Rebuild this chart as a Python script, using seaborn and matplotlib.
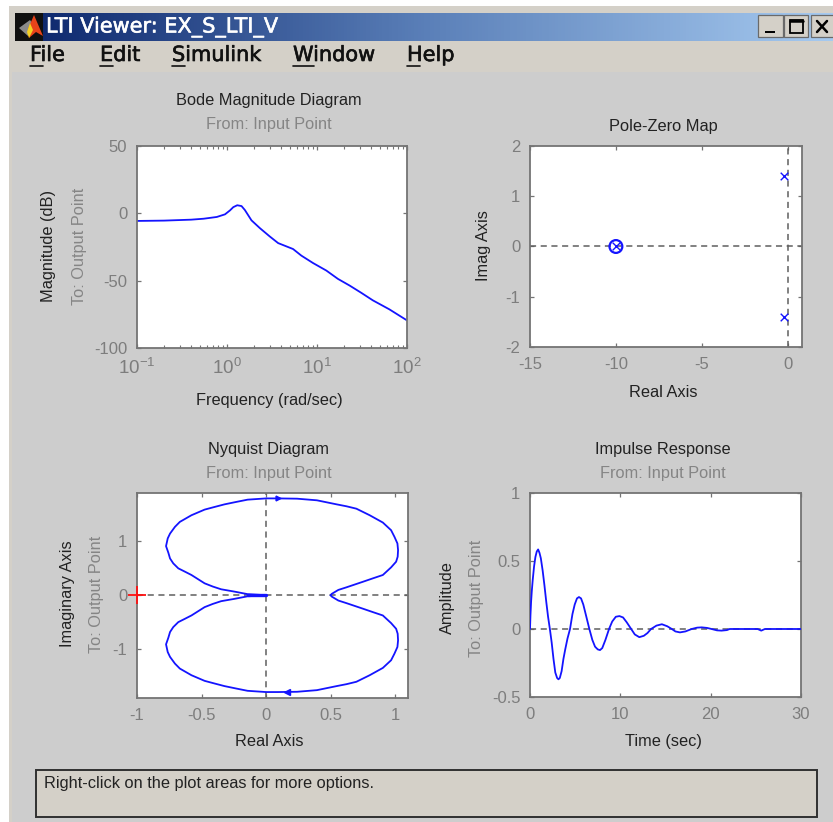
import numpy as np
import matplotlib
matplotlib.use("Agg")
import matplotlib.pyplot as plt
import matplotlib.patheffects as pe
from matplotlib.patches import Rectangle, Polygon
from matplotlib.ticker import FixedLocator, NullFormatter
import seaborn as sns

# ===============================
# Values
# ===============================
bode_freq = [0.1, 0.2, 0.4, 0.55, 0.77, 0.95, 1.08, 1.175, 1.30, 1.45, 1.58, 1.87, 2.32,
             2.99, 3.7, 5.42, 6.7, 9.03, 12.7, 17.1, 23, 31, 41.7, 63.7, 100]
bode_mag = [-5.65, -5.4, -4.7, -4.0, -2.7, -0.75, 2.2, 4.6, 6.0, 5.4, 2.45, -5.2, -11,
            -17.2, -22.1, -26.5, -31.4, -36.9, -42.5, -48.7, -53.6, -59, -64.6, -71.3, -79.5]

pole_re = [-0.21, -0.21, -10]
pole_im = [1.4, -1.4, 0]
zero_re = [-10]
zero_im = [0]

nyq_re = [0, -0.143, -0.245, -0.348, -0.412, -0.476, -0.578, -0.629, -0.68, -0.719, -0.744,
          -0.757, -0.775, -0.762, -0.744, -0.706, -0.668, -0.578, -0.476, -0.399, -0.322,
          -0.233, -0.143, 0, 0.092, 0.24, 0.394, 0.547, 0.624, 0.70, 0.803, 0.905, 0.969,
          0.995, 1.018, 1.023, 1.02, 1.008, 0.969, 0.905, 0.829, 0.752, 0.624, 0.56, 0.509, 0.5]
nyq_im = [0, 0.02, 0.067, 0.11, 0.16, 0.22, 0.374, 0.436, 0.497, 0.589, 0.68,
          0.785, 0.908, 1.05, 1.14, 1.264, 1.356, 1.479, 1.583, 1.632, 1.68,
          1.724, 1.767, 1.79, 1.79, 1.785, 1.755, 1.68, 1.644, 1.60, 1.479, 1.344, 1.202,
          1.08, 0.957, 0.834, 0.712, 0.62, 0.515, 0.374, 0.313, 0.25, 0.147, 0.098, 0.025, 0]

imp_t = [0, 0.05, 0.12, 0.2, 0.3, 0.45, 0.6, 0.75, 0.9, 1.05, 1.2, 1.4, 1.6, 1.8, 2.0, 2.2,
         2.4, 2.6, 2.8, 3.0, 3.15, 3.3, 3.5, 3.7, 3.9, 4.15, 4.43, 4.7, 4.95, 5.2, 5.42,
         5.65, 5.9, 6.2, 6.57, 6.9, 7.2, 7.5, 7.75, 8.0, 8.35, 8.75, 9.1, 9.5, 9.9, 10.3,
         10.7, 11.2, 11.6, 12.1, 12.6, 13.0, 13.4, 14, 14.6, 15.2, 15.7, 16.1, 16.6, 17.2,
         17.9, 18.5, 19, 19.6, 20.1, 20.7, 21.2, 21.8, 22.1, 25.2, 25.6, 26, 30]
imp_y = [0, 0.1, 0.2, 0.28, 0.36, 0.46, 0.53, 0.57, 0.585, 0.56, 0.52, 0.43, 0.32, 0.2, 0.09, 0,
         -0.1, -0.22, -0.32, -0.36, -0.37, -0.36, -0.31, -0.22, -0.15, -0.07, 0, 0.11, 0.18,
         0.225, 0.235,
         0.225, 0.18, 0.1, 0, -0.08, -0.13, -0.15, -0.155, -0.14, -0.08, 0, 0.055, 0.09, 0.095,
         0.085,
         0.05, 0, -0.04, -0.06, -0.05, -0.03, 0, 0.025, 0.035, 0.02, 0, -0.018, -0.025, -0.018,
         0, 0.01, 0.012, 0.008, 0, -0.01, -0.012, -0.008, 0, 0, -0.012, 0, 0]

W, H = 833, 822
BLUE = "#1414ff"
TICK = "#7d7d7d"
FRAME = "#747474"
BODY = "#cdcdcd"
PANEL = "#d4d0c8"

sns.set_theme(style="white")
plt.rcParams["font.family"] = ["Liberation Sans", "DejaVu Sans"]
plt.rcParams["mathtext.default"] = "regular"
plt.rcParams["axes.unicode_minus"] = False

fig = plt.figure(figsize=(W / 100, H / 100), dpi=100, facecolor="white")

# window chrome, drawn in pixel coordinates
bg = fig.add_axes([0, 0, 1, 1], zorder=0)
bg.axis("off")
bg.add_patch(Rectangle((9, 6), W - 9, H - 6, fc=PANEL, ec="none"))
bg.add_patch(Rectangle((12, 72), W - 12, H - 72, fc=BODY, ec="none"))
cmap = matplotlib.colors.LinearSegmentedColormap.from_list(
    "bar", ["#0a246a", "#5a7fb8", "#a6caf0"])
bg.imshow(np.linspace(0, 1, 256)[None, :], cmap=cmap, extent=(15, W, 41, 13), aspect="auto",
          zorder=2)
bg.set_xlim(0, W)
bg.set_ylim(H, 0)

# logo
bg.add_patch(Rectangle((15, 13), 28, 28, fc="#101010", ec="none", zorder=3))
bg.add_patch(Polygon([[19, 28], [30, 20], [35, 27], [28, 36]], fc="#8a8a8a", ec="none", zorder=3))
bg.add_patch(Polygon([[34, 15], [43, 36], [36, 32], [29, 38], [28, 29]], fc="#e8431a", ec="none",
                     zorder=3))
bg.add_patch(Polygon([[30, 23], [33, 30], [29, 38], [27, 32]], fc="#f4d020", ec="none", zorder=3))

bg.text(46, 27, "LTI Viewer: EX_S_LTI_V", color="white", fontsize=15,
        family="DejaVu Sans", va="center", ha="left", zorder=4,
        path_effects=[pe.withStroke(linewidth=0.4, foreground="white")])

# title bar buttons
for x0, x1 in [(758, 783), (784, 808), (811, 836)]:
    bg.add_patch(Rectangle((x0, 15), x1 - x0, 22, fc=PANEL, ec="#6a6a6a", lw=0.9, zorder=3))
bg.add_patch(Rectangle((765, 31), 10, 2.5, fc="black", ec="none", zorder=4))
bg.add_patch(Rectangle((790, 20), 13, 13, fc="none", ec="black", lw=1.3, zorder=4))
bg.plot([790, 803], [21, 21], color="black", lw=1.8, zorder=4)
bg.plot([817, 827], [21, 32], color="black", lw=1.8, zorder=4)
bg.plot([827, 817], [21, 32], color="black", lw=1.8, zorder=4)

# menu
menu_names = ["File", "Edit", "Simulink", "Window", "Help"]
menu_x = [30, 100, 172, 293, 407]
menu_ul = [(30, 43), (100, 113), (172, 185), (293, 314), (407, 420)]
for name, x, (u0, u1) in zip(menu_names, menu_x, menu_ul):
    bg.text(x, 55, name, fontsize=15, family="DejaVu Sans", color="#111111",
            va="center", ha="left", zorder=4,
            path_effects=[pe.withStroke(linewidth=0.45, foreground="#111111")])
    bg.plot([u0, u1], [66, 66], color="#111111", lw=1.2, zorder=4)

# status box
bg.add_patch(Rectangle((36, 770), 781, 47, fc=PANEL, ec="#303030", lw=1.4, zorder=3))
bg.text(44, 783, "Right-click on the plot areas for more options.", fontsize=11.8,
        color="#222222", va="center", ha="left", zorder=4)


def make_axes(left, right, top, bottom):
    ax = fig.add_axes([left / W, 1 - bottom / H, (right - left) / W, (bottom - top) / H],
                      zorder=2, facecolor="white")
    for s in ax.spines.values():
        s.set_color(FRAME)
        s.set_linewidth(1.3)
    ax.tick_params(which="both", direction="in", top=True, right=True, bottom=True,
                   left=True, color=FRAME, labelcolor=TICK, labelsize=12, pad=7)
    ax.tick_params(which="major", length=3, width=0.9)
    ax.tick_params(which="minor", length=2, width=0.8)
    return ax


def dashed(ax, horizontal=True, vertical=False):
    if horizontal:
        ax.axhline(0, color="#5f5f5f", lw=1.1, ls=(0, (4, 3)), zorder=1.5)
    if vertical:
        ax.axvline(0, color="#5f5f5f", lw=1.1, ls=(0, (4, 3)), zorder=1.5)


def labels(title_y, title, sub_x, xlabel, xlabel_y, cx, ylabel, ylabel_x, cy, sub=True):
    bg.text(cx, title_y, title, fontsize=11.8, color="#222222", ha="center", va="center", zorder=4)
    if sub:
        bg.text(cx, title_y + 24, "From: Input Point", fontsize=11.8, color="#858585",
                ha="center", va="center", zorder=4)
        bg.text(sub_x, cy, "To: Output Point", fontsize=11.8, color="#858585", rotation=90,
                ha="center", va="center", zorder=4)
    bg.text(cx, xlabel_y, xlabel, fontsize=11.8, color="#222222", ha="center", va="center", zorder=4)
    bg.text(ylabel_x, cy, ylabel, fontsize=11.8, color="#222222", rotation=90,
            ha="center", va="center", zorder=4)


# Bode
ax1 = make_axes(137, 407, 146, 348)
sns.lineplot(x=bode_freq, y=bode_mag, sort=False, estimator=None, color=BLUE, lw=1.3, ax=ax1)
ax1.set_xscale("log")
ax1.set_xlim(0.1, 100)
ax1.set_ylim(-100, 50)
ax1.set_yticks([-100, -50, 0, 50])
ax1.xaxis.set_minor_locator(FixedLocator(
    [m * 10.0 ** e for e in (-1, 0, 1) for m in range(2, 10)]))
ax1.xaxis.set_minor_formatter(NullFormatter())
ax1.set_xticks([0.1, 1, 10, 100])
ax1.set_xticklabels(["$10^{-1}$", "$10^{0}$", "$10^{1}$", "$10^{2}$"], fontsize=13.5)
labels(101, "Bode Magnitude Diagram", 80, "Frequency (rad/sec)", 400, 269,
       "Magnitude (dB)", 49, 246)

# Pole-zero
ax2 = make_axes(530, 802, 146, 347)
dashed(ax2, True, True)
sns.scatterplot(x=pole_re, y=pole_im, marker="x", color=BLUE, s=30, linewidth=1.0, ax=ax2,
                zorder=3)
sns.scatterplot(x=zero_re, y=zero_im, marker="o", facecolor="none", edgecolor=BLUE, s=85,
                linewidth=1.6, ax=ax2, zorder=3)
ax2.set_xlim(-15, 0.83)
ax2.set_ylim(-2, 2)
ax2.set_xticks([-15, -10, -5, 0])
ax2.set_yticks([-2, -1, 0, 1, 2])
labels(126, "Pole-Zero Map", 0, "Real Axis", 392, 663, "Imag Axis", 484, 246, sub=False)

# Nyquist
ax3 = make_axes(137, 408, 493, 698)
dashed(ax3, True, True)
sns.lineplot(x=nyq_re, y=nyq_im, sort=False, estimator=None, color=BLUE, lw=1.3, ax=ax3, zorder=3)
sns.lineplot(x=nyq_re, y=[-v for v in nyq_im], sort=False, estimator=None, color=BLUE, lw=1.3,
             ax=ax3, zorder=3)
ax3.plot([-0.14, 0], [0, 0], color=BLUE, lw=2.4, zorder=3)
ax3.plot([0.09], [1.79], marker=">", ms=3.5, color=BLUE, zorder=3)
ax3.plot([0.16], [-1.78], marker="<", ms=4.5, color=BLUE, zorder=3)
ax3.plot([-1], [0], marker="+", ms=13, mew=1.3, color="#ff1010", clip_on=False, zorder=5)
ax3.set_xlim(-1, 1.1)
ax3.set_ylim(-1.9, 1.89)
ax3.set_xticks([-1, -0.5, 0, 0.5, 1])
ax3.set_xticklabels(["-1", "-0.5", "0", "0.5", "1"])
ax3.set_yticks([-1, 0, 1])
labels(449, "Nyquist Diagram", 97, "Real Axis", 741, 269, "Imaginary Axis", 68, 594)

# Impulse
ax4 = make_axes(530, 801, 493, 697)
dashed(ax4, True, False)
sns.lineplot(x=imp_t, y=imp_y, sort=False, estimator=None, color=BLUE, lw=1.3, ax=ax4, zorder=3)
ax4.set_xlim(0, 30)
ax4.set_ylim(-0.5, 1)
ax4.set_xticks([0, 10, 20, 30])
ax4.set_yticks([-0.5, 0, 0.5, 1])
ax4.set_yticklabels(["-0.5", "0", "0.5", "1"])
labels(449, "Impulse Response", 477, "Time (sec)", 741, 663, "Amplitude", 447, 598)

for a in (ax1, ax2, ax3, ax4):
    a.set_xlabel("")
    a.set_ylabel("")

fig.savefig("out.png", dpi=100, facecolor=fig.get_facecolor())
